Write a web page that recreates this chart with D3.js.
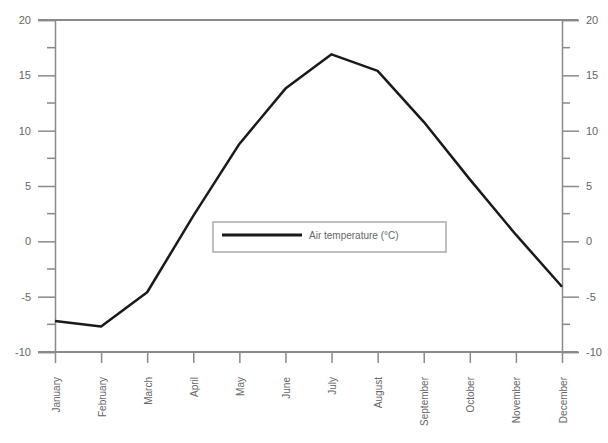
<!DOCTYPE html>
<html>
<head>
<meta charset="utf-8">
<script src="https://cdn.jsdelivr.net/npm/d3@7"></script>
<style>
  body { margin: 0; background: #fff; }
  svg { display: block; font-family: "Liberation Sans", Arial, sans-serif; }
</style>
</head>
<body>
<div id="chart"></div>
<script>
const months = ["January","February","March","April","May","June","July","August","September","October","November","December"];
const airTemp = [-7.2, -7.7, -4.6, 2.3, 8.8, 13.8, 16.9, 15.4, 10.8, 5.6, 0.6, -4.1];
const majorTicks = [20, 15, 10, 5, 0, -5, -10];
const minorTicks = [17.5, 12.5, 7.5, 2.5, -2.5, -7.5];
const legendLabel = "Air temperature (°C)";

const W = 608, H = 443;
const plot = { left: 55, right: 562, top: 20, bottom: 352 };

const svg = d3.select("#chart").append("svg")
  .attr("width", W).attr("height", H);

const x = d3.scalePoint().domain(months).range([plot.left, plot.right]);
const y = d3.scaleLinear().domain([-10, 20]).range([plot.bottom, plot.top]);

const gray = "#8a8a8a";
const textGray = "#666";
const fmtY = d => String(d); // plain hyphen minus like the original

// top & bottom frame lines
[20, -10].forEach(v => {
  svg.append("line")
    .attr("x1", 38).attr("x2", 578)
    .attr("y1", y(v)).attr("y2", y(v))
    .attr("stroke", gray).attr("stroke-width", 2);
});

// left axis
const gl = svg.append("g").attr("transform", `translate(${plot.left},0)`);
gl.call(d3.axisLeft(y).tickValues(majorTicks).tickSize(17).tickPadding(7).tickFormat(fmtY));
gl.selectAll(".tick line").attr("stroke", gray).attr("stroke-width", 1.5);
gl.select(".domain").attr("stroke", gray).attr("stroke-width", 1.5);
gl.selectAll(".tick text").attr("fill", textGray).style("font-size", "11px");
gl.selectAll(".minor").data(minorTicks).join("line")
  .attr("x1", -8).attr("x2", 0)
  .attr("y1", d => y(d)).attr("y2", d => y(d))
  .attr("stroke", gray).attr("stroke-width", 1.5);

// right axis
const gr = svg.append("g").attr("transform", `translate(${plot.right},0)`);
gr.call(d3.axisRight(y).tickValues(majorTicks).tickSize(17).tickPadding(7).tickFormat(fmtY));
gr.selectAll(".tick line").attr("stroke", gray).attr("stroke-width", 1.5);
gr.select(".domain").attr("stroke", gray).attr("stroke-width", 1.5);
gr.selectAll(".tick text").attr("fill", textGray).style("font-size", "11px");
gr.selectAll(".minor").data(minorTicks).join("line")
  .attr("x1", 0).attr("x2", 8)
  .attr("y1", d => y(d)).attr("y2", d => y(d))
  .attr("stroke", gray).attr("stroke-width", 1.5);

// bottom axis
const gb = svg.append("g").attr("transform", `translate(0,${plot.bottom})`);
gb.call(d3.axisBottom(x).tickSize(11).tickPadding(0));
gb.select(".domain").remove();
gb.selectAll(".tick line").attr("stroke", gray).attr("stroke-width", 1.5);
gb.selectAll(".tick text")
  .attr("fill", textGray).style("font-size", "10px")
  .attr("text-anchor", "end")
  .attr("y", 0)
  .attr("dy", null)
  .attr("transform", "translate(4,25) rotate(-90)");

// data line
svg.append("path")
  .datum(airTemp)
  .attr("fill", "none")
  .attr("stroke", "#1a1a1a")
  .attr("stroke-width", 2.5)
  .attr("stroke-linejoin", "round")
  .attr("d", d3.line().x((d, i) => x(months[i])).y(d => y(d)));

// legend
const lg = svg.append("g").attr("transform", "translate(213,222)");
lg.append("rect")
  .attr("width", 233).attr("height", 30)
  .attr("fill", "#fff").attr("stroke", "#aaa").attr("stroke-width", 1.5);
lg.append("line")
  .attr("x1", 9).attr("x2", 89).attr("y1", 13).attr("y2", 13)
  .attr("stroke", "#1a1a1a").attr("stroke-width", 3);
lg.append("text")
  .attr("x", 96).attr("y", 17)
  .attr("fill", textGray).style("font-size", "10px")
  .text(legendLabel);
</script>
</body>
</html>
